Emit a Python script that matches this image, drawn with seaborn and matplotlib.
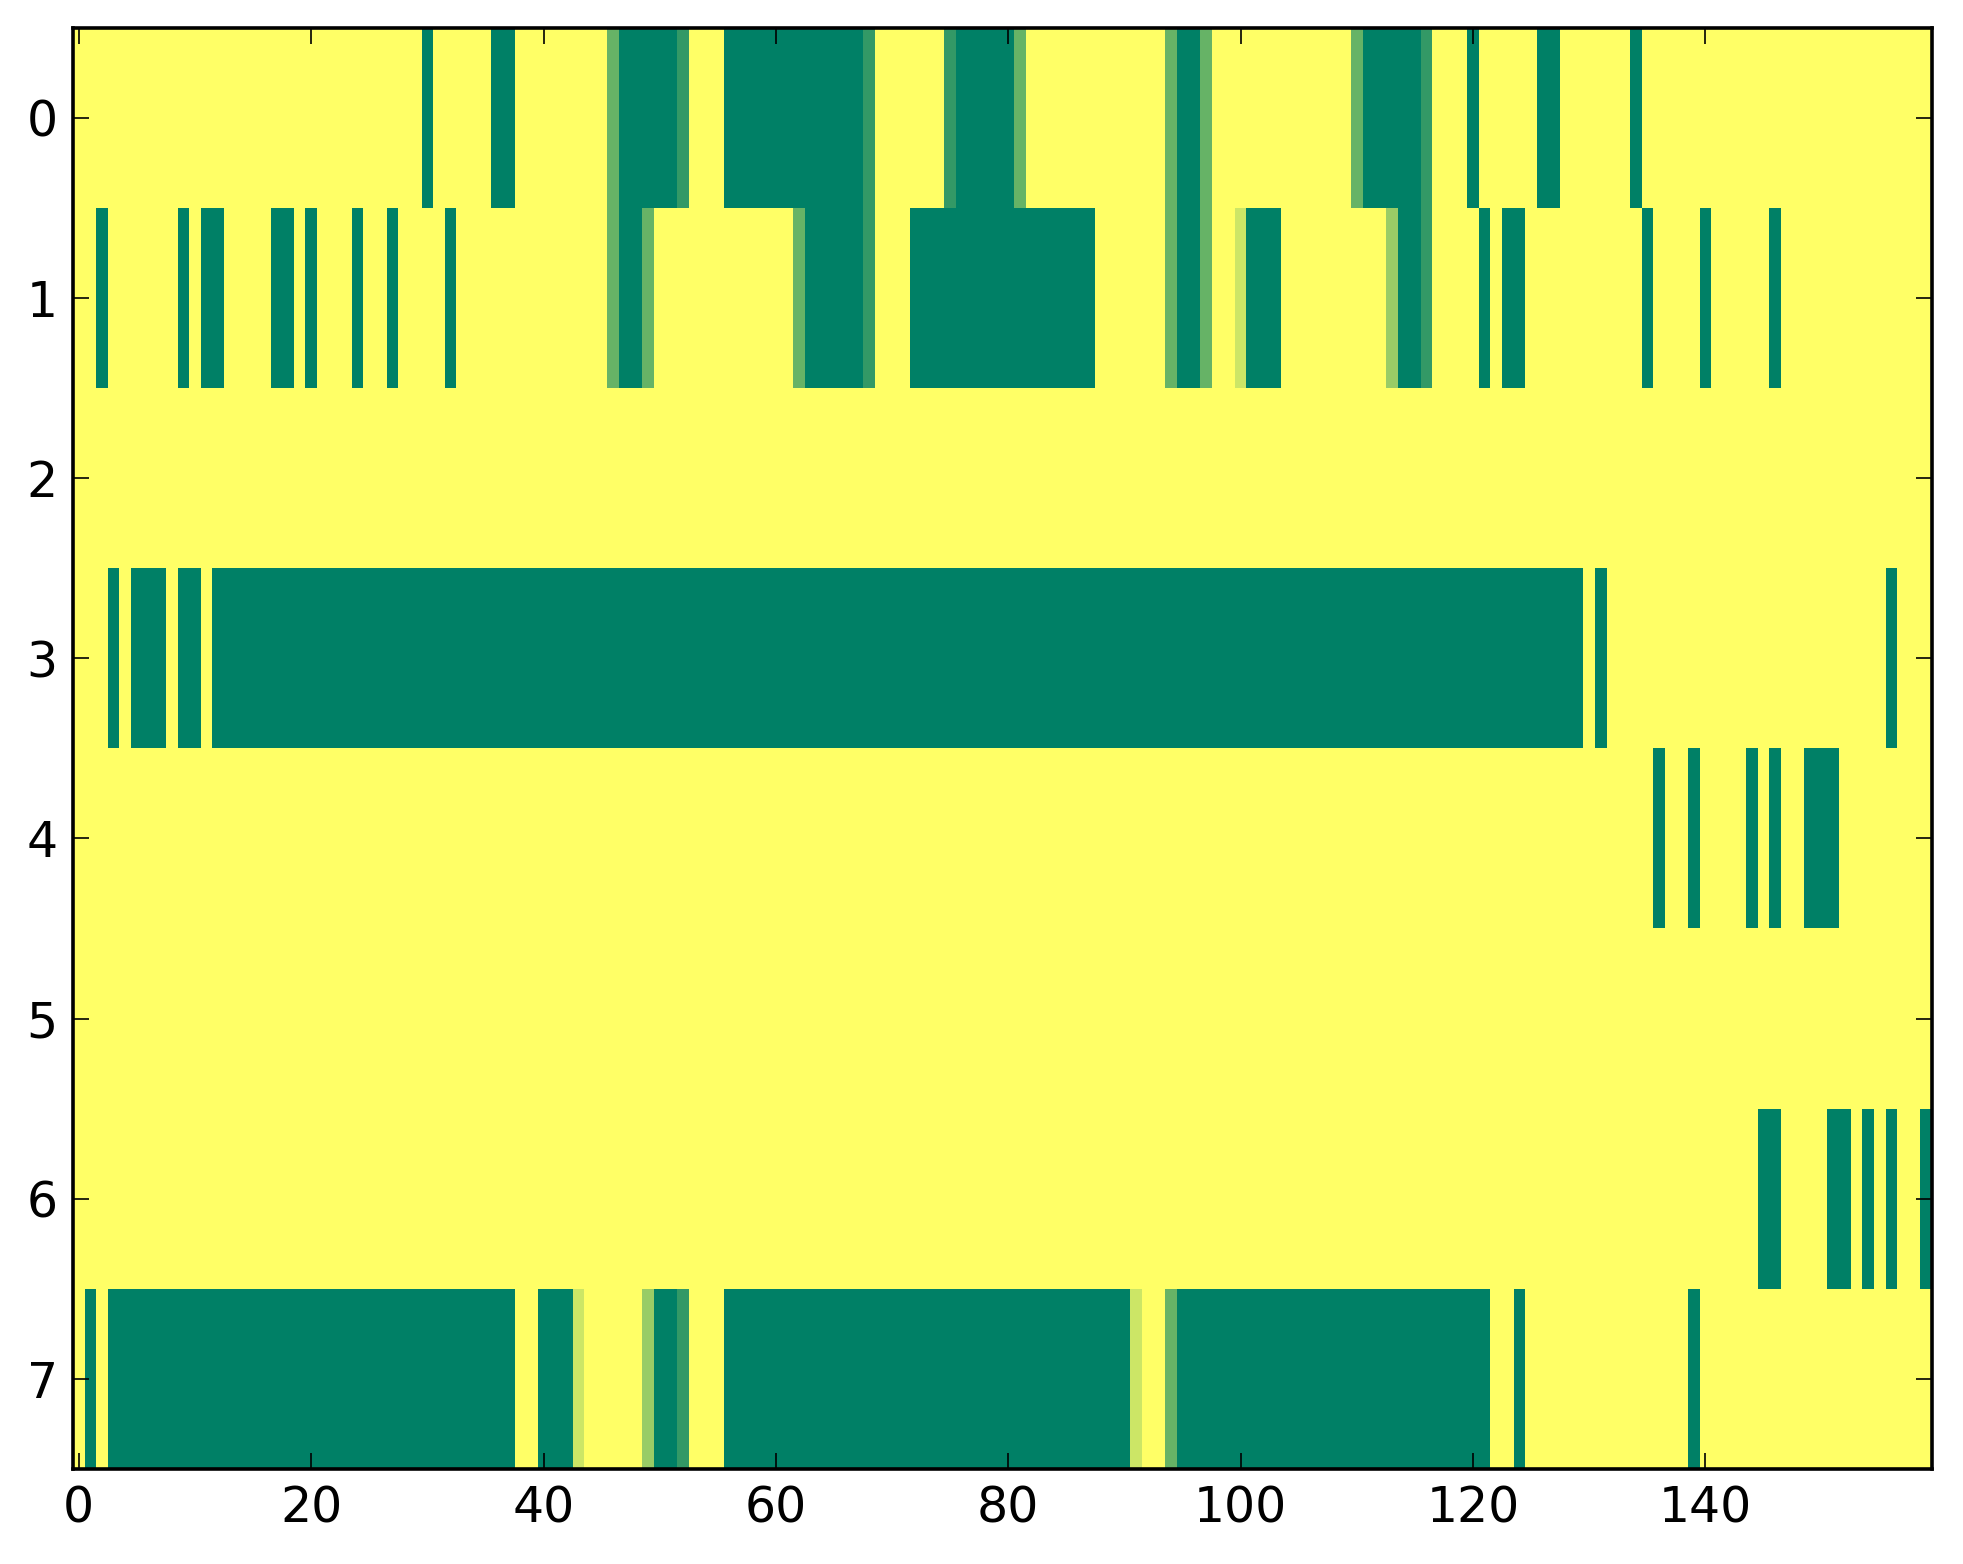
import numpy as np
import pandas as pd
import matplotlib
matplotlib.use("Agg")
import matplotlib.pyplot as plt
import seaborn as sns

# Each row written as runs of (level, count); level is in fifths (0 = yellow, 5 = full green)
row0 = [(0, 30), (5, 1), (0, 5), (5, 2), (0, 8), (3, 1), (5, 5), (4, 1), (0, 3), (5, 12),
        (4, 1), (0, 6), (4, 1), (5, 5), (3, 1), (0, 12), (3, 1), (5, 2), (3, 1), (0, 12),
        (3, 1), (5, 5), (4, 1), (0, 3), (5, 1), (0, 5), (5, 2), (0, 6), (5, 1), (0, 25)]
row1 = [(0, 2), (5, 1), (0, 6), (5, 1), (0, 1), (5, 2), (0, 4), (5, 2), (0, 1), (5, 1),
        (0, 3), (5, 1), (0, 2), (5, 1), (0, 4), (5, 1), (0, 13), (3, 1), (5, 2), (3, 1),
        (0, 12), (3, 1), (5, 5), (4, 1), (0, 3), (5, 16), (0, 6), (3, 1), (5, 2), (3, 1),
        (0, 2), (1, 1), (5, 3), (0, 9), (2, 1), (5, 2), (4, 1), (0, 4), (5, 1), (0, 1),
        (5, 2), (0, 10), (5, 1), (0, 4), (5, 1), (0, 5), (5, 1), (0, 13)]
row2 = [(0, 160)]
row3 = [(0, 3), (5, 1), (0, 1), (5, 3), (0, 1), (5, 2), (0, 1), (5, 118), (0, 1), (5, 1),
        (0, 24), (5, 1), (0, 3)]
row4 = [(0, 136), (5, 1), (0, 2), (5, 1), (0, 4), (5, 1), (0, 1), (5, 1), (0, 2), (5, 3),
        (0, 8)]
row5 = [(0, 160)]
row6 = [(0, 145), (5, 2), (0, 4), (5, 2), (0, 1), (5, 1), (0, 1), (5, 1), (0, 2), (5, 1)]
row7 = [(0, 1), (5, 1), (0, 1), (5, 35), (0, 2), (5, 3), (1, 1), (0, 5), (2, 1), (5, 2),
        (4, 1), (0, 3), (5, 35), (1, 1), (0, 2), (3, 1), (5, 27), (0, 2), (5, 1), (0, 14),
        (5, 1), (0, 20)]

rows = [row0, row1, row2, row3, row4, row5, row6, row7]
x_ticks = [0, 20, 40, 60, 80, 100, 120, 140]


def expand(runs):
    levels = [lvl for lvl, n in runs]
    counts = [n for lvl, n in runs]
    return np.repeat(levels, counts) / 5.0


df = pd.DataFrame([expand(r) for r in rows])

sns.set_style("ticks", {
    "xtick.direction": "in", "ytick.direction": "in",
    "xtick.top": True, "ytick.right": True,
    "axes.edgecolor": "black", "text.color": "black",
    "xtick.color": "black", "ytick.color": "black",
})
plt.rcParams["font.family"] = ["DejaVu Sans"]

fig = plt.figure(figsize=(1963 / 200, 1564 / 200), dpi=200)
ax = fig.add_axes([73 / 1963, 1 - 1469 / 1564, (1932 - 73) / 1963, (1469 - 27.5) / 1564])

sns.heatmap(df, cmap="summer_r", vmin=0, vmax=1, cbar=False, ax=ax,
            xticklabels=False, yticklabels=False, linewidths=0)

ax.set_xticks(np.array(x_ticks) + 0.5)
ax.set_xticklabels([str(t) for t in x_ticks])
ax.set_yticks(np.arange(len(rows)) + 0.5)
ax.set_yticklabels([str(i) for i in range(len(rows))], rotation=0)

# seaborn puts the axis below artists; the ticks must sit on top of the cells
ax.set_axisbelow(False)

for side in ["top", "bottom", "left", "right"]:
    ax.spines[side].set_visible(True)
    ax.spines[side].set_color("black")
    ax.spines[side].set_linewidth(1.3)

ax.xaxis.set_ticks_position("both")
ax.yaxis.set_ticks_position("both")
ax.tick_params(axis="both", which="major", direction="in", length=5.8, width=0.6,
               color="black", labelcolor="black", labelsize=17.6, pad=5.5,
               top=True, right=True, bottom=True, left=True,
               labeltop=False, labelright=False, labelbottom=True, labelleft=True)

fig.savefig("out.png", dpi=200)
